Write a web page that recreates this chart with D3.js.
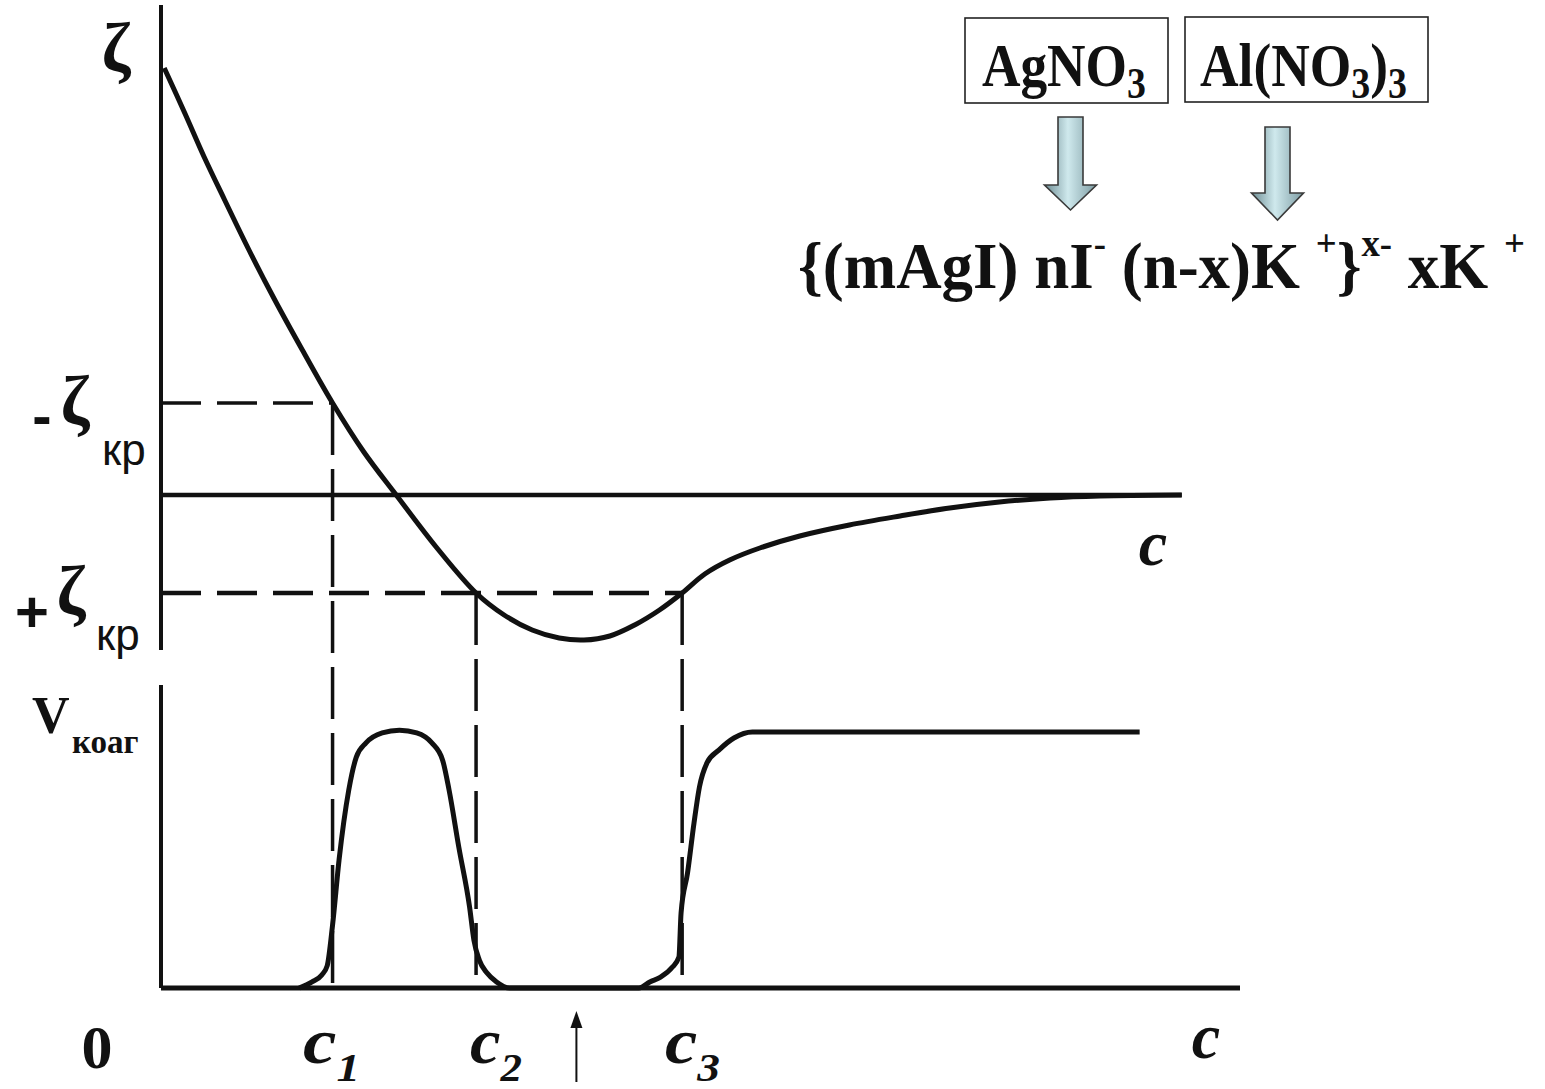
<!DOCTYPE html>
<html>
<head>
<meta charset="utf-8">
<script src="https://cdn.jsdelivr.net/npm/d3@7"></script>
<style>
  html, body { margin: 0; padding: 0; background: #fff; }
  svg text { white-space: pre; }
</style>
</head>
<body>
<svg id="chart" width="1545" height="1089"></svg>
<script>
// zeta potential vs electrolyte concentration
var zetaConc  = [0.3, 2.2, 4.0, 5.9, 8.2, 10.5, 13.1, 15.9, 18.8, 21.8, 25.5, 29.2, 31.8, 34.4, 36.9, 39.2,
                 41.6, 43.9, 46.2, 48.3, 50.4, 52.7, 55.5, 59.2, 63.8, 68.5, 73.1, 77.7, 82.4, 87.0, 94.6];
var zetaValue = [427, 382, 338, 295, 244, 196, 145, 92, 43, 0, -52, -98, -120, -135, -143, -145,
                 -141, -130, -115, -98, -79, -65, -53, -41, -30, -21, -13, -7, -3, -1, 0];

// coagulation rate vs concentration
var rateConc  = [12.8, 14.0, 14.9, 15.4, 15.9, 16.5, 17.4, 18.1, 19.0, 20.5, 22.1, 23.7, 25.1, 26.1, 26.7,
                 27.6, 28.6, 29.0, 29.5, 30.2, 31.1, 32.3, 44.3, 45.3, 46.3, 47.4, 48.0, 48.2, 48.8, 49.4,
                 49.9, 50.6, 51.7, 53.1, 54.8, 90.7];
var rateValue = [0, 0.02, 0.043, 0.073, 0.208, 0.422, 0.653, 0.762, 0.809, 0.842, 0.851, 0.842, 0.809, 0.752,
                 0.653, 0.465, 0.267, 0.158, 0.092, 0.05, 0.02, 0, 0, 0.02, 0.036, 0.069, 0.102, 0.248,
                 0.38, 0.545, 0.663, 0.743, 0.785, 0.825, 0.845, 0.845];

// critical concentrations c1, c2, c3 and critical potentials
var critConc = [15.9, 29.2, 48.3];
var critNames = ['1', '2', '3'];
var critZeta = [92, -98];          // -ζкр (upper), +ζкр (lower)
var critZetaIdx = [0, 1, 1];       // which critical potential each c_i sits on
var markConc = 38.5;               // arrow under the axis
var zetaAxisEnd = 94.6;

var svg = d3.select('#chart');
var serif = '"Liberation Serif", "Times New Roman", serif';
var sans = '"Liberation Sans", Arial, sans-serif';
var ink = '#111';

var x = d3.scaleLinear().domain([0, 100]).range([161, 1240]);
var yZ = d3.scaleLinear().domain([-155, 490]).range([650, 5]);
var yV = d3.scaleLinear().domain([0, 1]).range([988, 685]);

var zetaData = zetaConc.map(function(c, i) { return [c, zetaValue[i]]; });
var rateData = rateConc.map(function(c, i) { return [c, rateValue[i]]; });

// gradient for the block arrows
var grad = svg.append('defs').append('linearGradient')
    .attr('id', 'arrowFill').attr('x1', '0%').attr('x2', '100%');
grad.append('stop').attr('offset', '0%').attr('stop-color', '#6d8c93');
grad.append('stop').attr('offset', '45%').attr('stop-color', '#cfe9ed');
grad.append('stop').attr('offset', '100%').attr('stop-color', '#7d9ca3');

// ---- axes ----
function line(x1, y1, x2, y2, w, dash) {
  return svg.append('line')
      .attr('x1', x1).attr('y1', y1).attr('x2', x2).attr('y2', y2)
      .attr('stroke', ink).attr('stroke-width', w)
      .attr('stroke-dasharray', dash || null);
}

line(x(0), yZ(490), x(0), yZ(-155), 4);
line(x(0), yZ(0), x(zetaAxisEnd), yZ(0), 4.5);
line(x(0), yV(1), x(0), yV(0), 4);
line(x(0), yV(0), x(100), yV(0), 5);

// ---- dashed guides ----
critZeta.forEach(function(z, i) {
  var cEnd = i === 0 ? critConc[0] : critConc[2];
  line(x(0), yZ(z), x(cEnd), yZ(z), i === 0 ? 3.5 : 4.5, '40,16');
});
critConc.forEach(function(c, i) {
  line(x(c), yZ(critZeta[critZetaIdx[i]]), x(c), yV(0), 3.5, '52,14');
});

// ---- curves ----
var zetaLine = d3.line()
    .x(function(d) { return x(d[0]); })
    .y(function(d) { return yZ(d[1]); })
    .curve(d3.curveCatmullRom.alpha(0.5));
var rateLine = d3.line()
    .x(function(d) { return x(d[0]); })
    .y(function(d) { return yV(d[1]); })
    .curve(d3.curveMonotoneX);

svg.append('path').datum(zetaData).attr('d', zetaLine)
    .attr('fill', 'none').attr('stroke', ink).attr('stroke-width', 5)
    .attr('stroke-linejoin', 'round');
svg.append('path').datum(rateData).attr('d', rateLine)
    .attr('fill', 'none').attr('stroke', ink).attr('stroke-width', 5)
    .attr('stroke-linejoin', 'round');

// ---- text helpers ----
function addText(parts, baseY, font) {
  var t = svg.append('text').attr('x', 0).attr('y', baseY)
      .attr('font-family', font.family).attr('font-weight', font.weight || 'normal')
      .attr('font-style', font.style || 'normal').attr('fill', ink);
  parts.forEach(function(p) {
    t.append('tspan').attr('y', baseY + (p.dy || 0)).attr('font-size', p.size).text(p.t);
  });
  return t;
}
// squeeze a text horizontally into [x0, x1]
function fit(t, x0, x1) {
  var b = t.node().getBBox();
  var sx = (x1 - x0) / b.width;
  t.attr('transform', 'translate(' + (x0 - b.x * sx) + ',0) scale(' + sx + ',1)');
}
function glyph(str, cx, baseY, size, family, weight, style, anchor) {
  return svg.append('text').attr('x', cx).attr('y', baseY)
      .attr('text-anchor', anchor || 'middle')
      .attr('font-family', family).attr('font-size', size)
      .attr('font-weight', weight || 'normal').attr('font-style', style || 'normal')
      .attr('fill', ink).text(str);
}

// ---- axis labels ----
glyph('ζ', 116, 71, 70, serif, 'bold');
glyph('-', 42, 436, 58, sans, 'bold');
glyph('ζ', 75, 424, 70, serif, 'bold');
glyph('кр', 102, 465, 44, sans, 'normal', 'normal', 'start');
glyph('+', 32, 632, 58, sans, 'bold');
glyph('ζ', 71, 614, 70, serif, 'bold');
glyph('кр', 96, 650, 44, sans, 'normal', 'normal', 'start');
glyph('V', 32, 733, 52, serif, 'bold', 'normal', 'start');
glyph('коаг', 72, 753, 33, serif, 'bold', 'normal', 'start');

glyph('c', 1153, 565, 64, serif, 'bold', 'italic');
glyph('0', 97, 1068, 62, serif, 'bold');
glyph('c', 1206, 1058, 64, serif, 'bold', 'italic');

var cLabelSpan = [[303, 360], [470, 522], [665, 720]];
critConc.forEach(function(c, i) {
  var t = addText([{ t: 'c', size: 64 }, { t: critNames[i], size: 40, dy: 18 }], 1063,
      { family: serif, weight: 'bold', style: 'italic' });
  fit(t, cLabelSpan[i][0], cLabelSpan[i][1]);
});

// small arrow under the axis
var ax = x(markConc);
line(ax, 1082, ax, 1026, 2);
svg.append('path')
    .attr('d', 'M' + (ax - 6) + ',1028L' + ax + ',1011L' + (ax + 6) + ',1028Z')
    .attr('fill', ink);

// ---- reagent boxes and block arrows ----
var boxes = [
  { x: 965, y: 18, w: 203, h: 85, parts: [{ t: 'AgNO', size: 62 }, { t: '3', size: 44, dy: 12 }],
    span: [982, 1146], arrow: { cx: 1070.5, top: 117, neck: 185, tip: 210 } },
  { x: 1185, y: 17, w: 243, h: 85, parts: [{ t: 'Al(NO', size: 62 }, { t: '3', size: 44, dy: 12 },
      { t: ')', size: 62 }, { t: '3', size: 44, dy: 12 }],
    span: [1200, 1407], arrow: { cx: 1277.5, top: 127, neck: 193, tip: 220 } }
];
boxes.forEach(function(b) {
  svg.append('rect').attr('x', b.x).attr('y', b.y).attr('width', b.w).attr('height', b.h)
      .attr('fill', '#fff').attr('stroke', '#222').attr('stroke-width', 1.6);
  var t = addText(b.parts, 86, { family: serif, weight: 'bold' });
  fit(t, b.span[0], b.span[1]);
  var a = b.arrow, sw = 12.5, hw = 26;
  svg.append('path')
      .attr('d', 'M' + (a.cx - sw) + ',' + a.top + 'H' + (a.cx + sw) + 'V' + a.neck +
          'H' + (a.cx + hw) + 'L' + a.cx + ',' + a.tip + 'L' + (a.cx - hw) + ',' + a.neck +
          'H' + (a.cx - sw) + 'Z')
      .attr('fill', 'url(#arrowFill)').attr('stroke', '#3a3a3a').attr('stroke-width', 1.6)
      .attr('stroke-linejoin', 'miter');
});

// ---- micelle formula ----
var formula = addText([
  { t: '{(mAgI) nI', size: 65 },
  { t: '-', size: 38, dy: -32 },
  { t: ' (n-x)K ', size: 65 },
  { t: '+', size: 38, dy: -32 },
  { t: '}', size: 65 },
  { t: 'x-', size: 38, dy: -32 },
  { t: ' xK ', size: 65 },
  { t: '+', size: 38, dy: -32 }
], 288, { family: serif, weight: 'bold' });
fit(formula, 798, 1525);
</script>
</body>
</html>
